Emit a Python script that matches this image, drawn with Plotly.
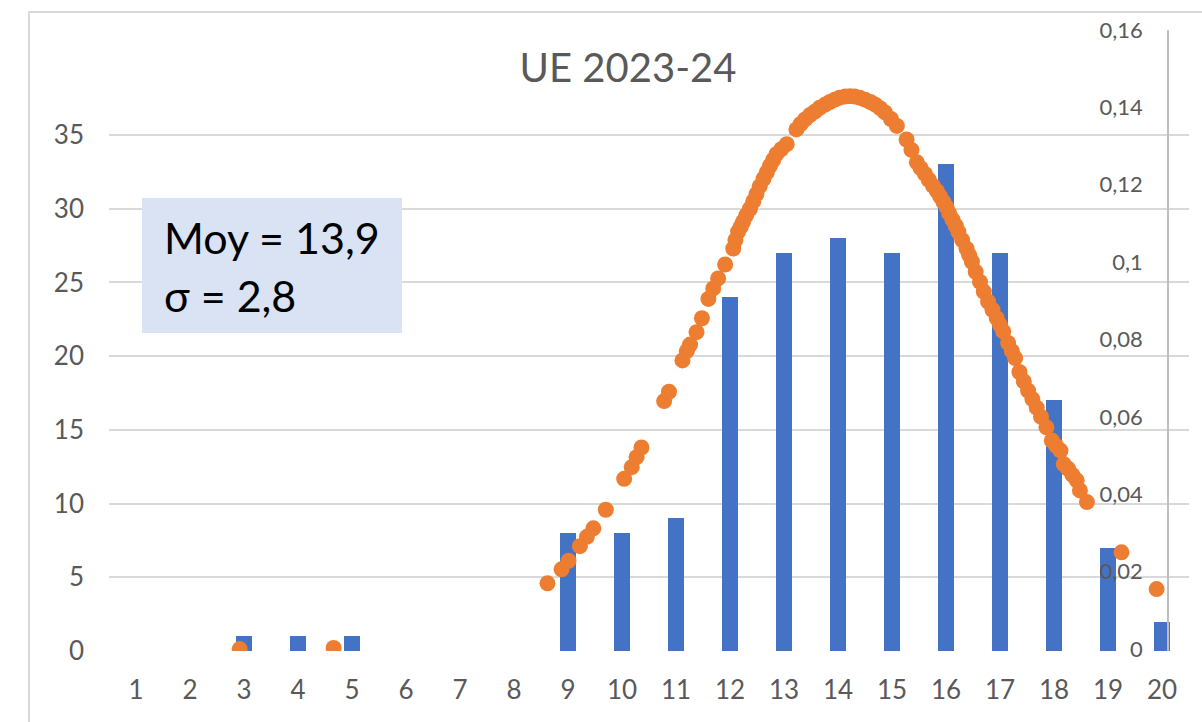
"""Histogramme UE 2023-24 avec courbe de densité normale superposée."""

import plotly.graph_objects as go

# notes (catégories) et effectifs
notes = list(range(1, 21))
effectifs = [0, 0, 1, 1, 1, 0, 0, 0, 8, 8, 9, 24, 27, 28, 27, 33, 27, 17, 7, 2]

# densité normale (axe de droite)
densite_x = [
    2.92, 4.66, 8.62, 8.88, 9.01, 9.22, 9.35, 9.47, 9.70, 10.04, 10.18, 10.27,
    10.36, 10.78, 10.87, 11.12, 11.20, 11.26, 11.38, 11.48, 11.60, 11.69, 11.78,
    11.91, 12.06, 12.10, 12.15, 12.20, 12.24, 12.30, 12.37, 12.43, 12.49, 12.55,
    12.62, 12.68, 12.74, 12.80, 12.86, 12.95, 13.05, 13.23, 13.31, 13.39, 13.48,
    13.57, 13.66, 13.76, 13.85, 13.94, 14.03, 14.13, 14.22, 14.31, 14.40, 14.50,
    14.60, 14.69, 14.78, 14.87, 14.98, 15.09, 15.27, 15.36, 15.46, 15.53, 15.61,
    15.68, 15.76, 15.83, 15.89, 15.95, 16.01, 16.06, 16.12, 16.18, 16.23, 16.30,
    16.38, 16.43, 16.48, 16.55, 16.63, 16.70, 16.78, 16.86, 16.94, 17.00, 17.06,
    17.15, 17.22, 17.28, 17.36, 17.44, 17.52, 17.60, 17.68, 17.76, 17.86, 17.96,
    18.04, 18.12, 18.18, 18.26, 18.34, 18.42, 18.48, 18.61, 19.25, 19.90,
]
densite_y = [
    0.0000, 0.0003, 0.0170, 0.0206, 0.0228, 0.0266, 0.0290, 0.0312, 0.0360,
    0.0440, 0.0470, 0.0496, 0.0521, 0.0641, 0.0665, 0.0746, 0.0770, 0.0787,
    0.0819, 0.0855, 0.0905, 0.0932, 0.0958, 0.0994, 0.1035, 0.1057, 0.1079,
    0.1092, 0.1104, 0.1121, 0.1138, 0.1157, 0.1176, 0.1196, 0.1215, 0.1232,
    0.1249, 0.1264, 0.1279, 0.1292, 0.1305, 0.1343, 0.1357, 0.1369, 0.1380,
    0.1389, 0.1399, 0.1407, 0.1414, 0.1420, 0.1425, 0.1428, 0.1429, 0.1428,
    0.1425, 0.1420, 0.1414, 0.1407, 0.1398, 0.1387, 0.1370, 0.1352, 0.1317,
    0.1290, 0.1258, 0.1243, 0.1228, 0.1213, 0.1197, 0.1184, 0.1170, 0.1156,
    0.1142, 0.1126, 0.1110, 0.1094, 0.1078, 0.1057, 0.1035, 0.1018, 0.1001,
    0.0975, 0.0949, 0.0924, 0.0898, 0.0877, 0.0855, 0.0838, 0.0821, 0.0791,
    0.0770, 0.0752, 0.0716, 0.0692, 0.0668, 0.0646, 0.0624, 0.0600, 0.0573,
    0.0539, 0.0525, 0.0513, 0.0478, 0.0466, 0.0450, 0.0436, 0.0410, 0.0380,
    0.0250, 0.0155,
]

y_ticks = [0, 5, 10, 15, 20, 25, 30, 35]
y2_ticks = [0, 0.02, 0.04, 0.06, 0.08, 0.1, 0.12, 0.14, 0.16]

FONT = "Lato, 'Open Sans', sans-serif"
GREY = "#595959"

# plot area in pixels (1202x722 page)
L, R, T, B = 109, 1189, 30, 651


def px_x(p):
    return (p - L) / (R - L)


def px_y(p):
    return (B - p) / (B - T)


fig = go.Figure()

fig.add_trace(
    go.Bar(
        x=notes,
        y=effectifs,
        width=0.31,
        marker={"color": "#4472C4", "line": {"width": 0}},
        showlegend=False,
    )
)

fig.add_trace(
    go.Scatter(
        x=densite_x,
        y=densite_y,
        yaxis="y2",
        mode="markers",
        marker={"size": 16, "color": "#ED7D31", "line": {"width": 0}},
        showlegend=False,
    )
)

# chart frame (Excel style)
fig.add_shape(
    type="rect", xref="paper", yref="paper",
    x0=px_x(29), x1=px_x(1230), y0=px_y(760), y1=px_y(12),
    line={"color": "#D9D9D9", "width": 2}, fillcolor="rgba(0,0,0,0)", layer="below",
)

# stats box
fig.add_shape(
    type="rect", xref="paper", yref="paper",
    x0=px_x(142), x1=px_x(402), y0=px_y(333), y1=px_y(198),
    line={"width": 0}, fillcolor="#DAE3F3", layer="above",
)
fig.add_annotation(
    x=px_x(162), y=px_y(237), xref="paper", yref="paper",
    xanchor="left", yanchor="middle", showarrow=False,
    text="Moy = 13,9", font={"family": FONT, "size": 43, "color": "#000000"},
)
fig.add_annotation(
    x=px_x(162), y=px_y(295), xref="paper", yref="paper",
    xanchor="left", yanchor="middle", showarrow=False,
    text="σ = 2,8", font={"family": FONT, "size": 43, "color": "#000000"},
)

fig.update_layout(
    width=1202,
    height=722,
    template="none",
    paper_bgcolor="white",
    plot_bgcolor="white",
    separators=", ",
    font={"family": FONT, "color": GREY},
    title={
        "text": "UE 2023-24",
        "x": 628 / 1202,
        "y": 1 - 68 / 722,
        "xanchor": "center",
        "yanchor": "middle",
        "font": {"family": FONT, "size": 40, "color": GREY},
    },
    margin={"l": L, "r": 1202 - R, "t": T, "b": 722 - B, "pad": 0},
    xaxis={
        "range": [0.5, 20.5],
        "tickvals": notes,
        "showgrid": False,
        "zeroline": False,
        "showline": False,
        "ticks": "",
        "ticklabelstandoff": 21,
        "tickfont": {"size": 26, "color": GREY},
        "automargin": False,
    },
    yaxis={
        "range": [0, (B - T) / ((B - 135) / 35)],
        "tickvals": y_ticks,
        "showgrid": True,
        "gridcolor": "#D9D9D9",
        "gridwidth": 2,
        "zeroline": False,
        "showline": False,
        "ticks": "",
        "ticklabelstandoff": 24,
        "tickfont": {"size": 26, "color": GREY},
        "automargin": False,
    },
    # secondary axis drawn inside the plot, labels to the left of its line
    yaxis2={
        "overlaying": "y",
        "side": "left",
        "anchor": "free",
        "position": px_x(1168),
        "range": [-0.0005, 0.16],
        "tickvals": y2_ticks,
        "showgrid": False,
        "zeroline": False,
        "showline": True,
        "linecolor": "#BFBFBF",
        "linewidth": 1.5,
        "ticks": "",
        "ticklabelstandoff": 20,
        "tickfont": {"size": 22, "color": GREY},
        "automargin": False,
    },
    bargap=0,
)

fig.write_html(
    "out.html",
    config={"displayModeBar": False},
    post_script="document.body.style.margin = '0';",
)
